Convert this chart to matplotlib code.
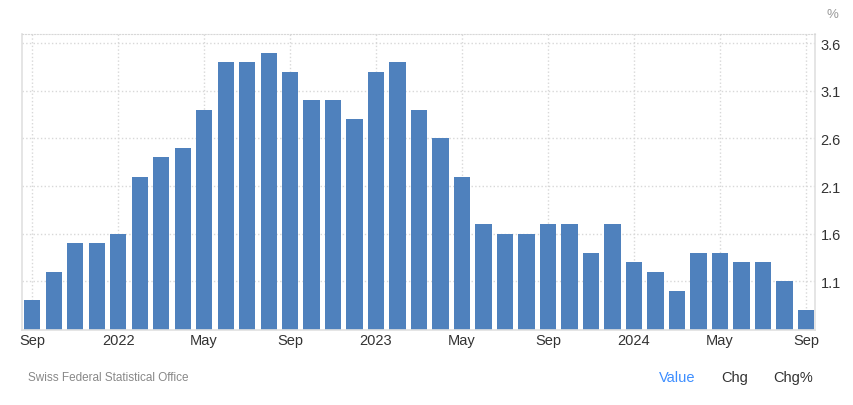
import matplotlib
matplotlib.use('Agg')
import matplotlib.pyplot as plt

plt.rcParams['font.family'] = ['Liberation Sans', 'DejaVu Sans']

# Swiss CPI, yoy %, Sep 2021 - Sep 2024
months = ['Sep', 'Oct', 'Nov', 'Dec',
          'Jan', 'Feb', 'Mar', 'Apr', 'May', 'Jun', 'Jul', 'Aug', 'Sep', 'Oct', 'Nov', 'Dec',
          'Jan', 'Feb', 'Mar', 'Apr', 'May', 'Jun', 'Jul', 'Aug', 'Sep', 'Oct', 'Nov', 'Dec',
          'Jan', 'Feb', 'Mar', 'Apr', 'May', 'Jun', 'Jul', 'Aug', 'Sep']
values = [0.9, 1.2, 1.5, 1.5,
          1.6, 2.2, 2.4, 2.5, 2.9, 3.4, 3.4, 3.5, 3.3, 3.0, 3.0, 2.8,
          3.3, 3.4, 2.9, 2.6, 2.2, 1.7, 1.6, 1.6, 1.7, 1.7, 1.4, 1.7,
          1.3, 1.2, 1.0, 1.4, 1.4, 1.3, 1.3, 1.1, 0.8]
tick_idx = [0, 4, 8, 12, 16, 20, 24, 28, 32, 36]
tick_labels = ['Sep', '2022', 'May', 'Sep', '2023', 'May', 'Sep', '2024', 'May', 'Sep']
yticks = [1.1, 1.6, 2.1, 2.6, 3.1, 3.6]

fig = plt.figure(figsize=(8.54, 4.06), dpi=100)
ax = fig.add_axes([22 / 854, 75 / 406, 793 / 854, 296 / 406])

x = list(range(len(values)))
ax.bar(x, values, width=0.75, color='#4f81bd', zorder=2)

ax.set_xlim(-0.47, 36.42)
ax.set_ylim(0.59, 3.695)

ax.set_xticks(tick_idx)
ax.set_xticklabels(tick_labels)
ax.yaxis.tick_right()
ax.set_yticks(yticks)
ax.set_yticklabels([f'{v:.1f}' for v in yticks])
ax.tick_params(axis='both', length=0, labelsize=10.5, colors='#333333')
ax.tick_params(axis='x', pad=2)
ax.tick_params(axis='y', pad=4)

ax.grid(True, linestyle=':', color='#d8d8d8', linewidth=1, zorder=0)

for side in ['top']:
    ax.spines[side].set_linestyle(':')
    ax.spines[side].set_color('#d8d8d8')
for side in ['left', 'right', 'bottom']:
    ax.spines[side].set_color('#e0e0e0')
    ax.spines[side].set_linewidth(1.2)

fig.text(832 / 854, 1 - 15 / 406, '%', ha='center', va='center', fontsize=9.5, color='#999999')
fig.text(28 / 854, 1 - 378 / 406, 'Swiss Federal Statistical Office', ha='left', va='center',
         fontsize=8.5, color='#888888')
fig.text(677 / 854, 1 - 378 / 406, 'Value', ha='center', va='center', fontsize=10.5, color='#3d8eff')
fig.text(735 / 854, 1 - 378 / 406, 'Chg', ha='center', va='center', fontsize=10.5, color='#333333')
fig.text(793 / 854, 1 - 378 / 406, 'Chg%', ha='center', va='center', fontsize=10.5, color='#333333')

fig.savefig('out.png', dpi=100)
